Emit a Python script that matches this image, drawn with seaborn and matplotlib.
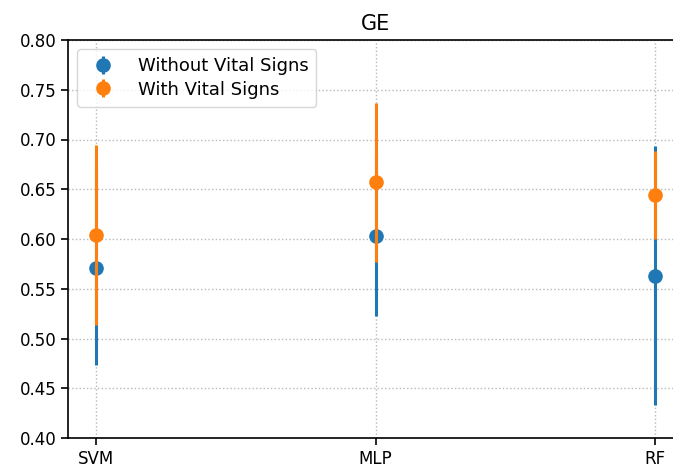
import matplotlib
matplotlib.use("Agg")
import matplotlib.pyplot as plt
import seaborn as sns
import numpy as np

models = ["SVM", "MLP", "RF"]
without_mean = [0.571, 0.603, 0.563]
without_err = [0.098, 0.080, 0.130]
with_mean = [0.604, 0.657, 0.644]
with_err = [0.090, 0.080, 0.044]
series_labels = ["Without Vital Signs", "With Vital Signs"]
yticks = [0.40, 0.45, 0.50, 0.55, 0.60, 0.65, 0.70, 0.75, 0.80]

sns.set_style("white")
plt.rcParams["font.family"] = ["DejaVu Sans"]
for k in ["text.color", "axes.labelcolor", "xtick.color", "ytick.color"]:
    plt.rcParams[k] = "black"

fig = plt.figure(figsize=(6.73, 4.70), dpi=100)
ax = fig.add_axes([68 / 673, 32 / 470, 615 / 673, 398 / 470])

pal = sns.color_palette("tab10")
x = np.arange(len(models))
ax.errorbar(x, without_mean, yerr=without_err, fmt="o", color=pal[0],
            markersize=9.5, elinewidth=2.2, capsize=0, label=series_labels[0], zorder=3)
ax.errorbar(x, with_mean, yerr=with_err, fmt="o", color=pal[1],
            markersize=9.5, elinewidth=2.2, capsize=0, label=series_labels[1], zorder=4)

ax.set_xlim(-0.1, 2.1)
ax.set_ylim(0.40, 0.80)
ax.set_xticks(x)
ax.set_xticklabels(models, fontsize=12)
ax.set_yticks(yticks)
ax.set_yticklabels([f"{v:.2f}" for v in yticks], fontsize=12)
ax.tick_params(axis="both", direction="out", length=5, width=1.2, left=True, bottom=True, colors="black")
ax.grid(True, linestyle=":", color="#b8b8b8", linewidth=1)
for s in ax.spines.values():
    s.set_color("black")
    s.set_linewidth(1.2)
ax.set_title("GE", fontsize=15, color="black", pad=7)
ax.legend(loc="upper left", fontsize=13, frameon=True, borderpad=0.45,
          handletextpad=0.9, labelspacing=0.3)

fig.savefig("out.png", dpi=100)
